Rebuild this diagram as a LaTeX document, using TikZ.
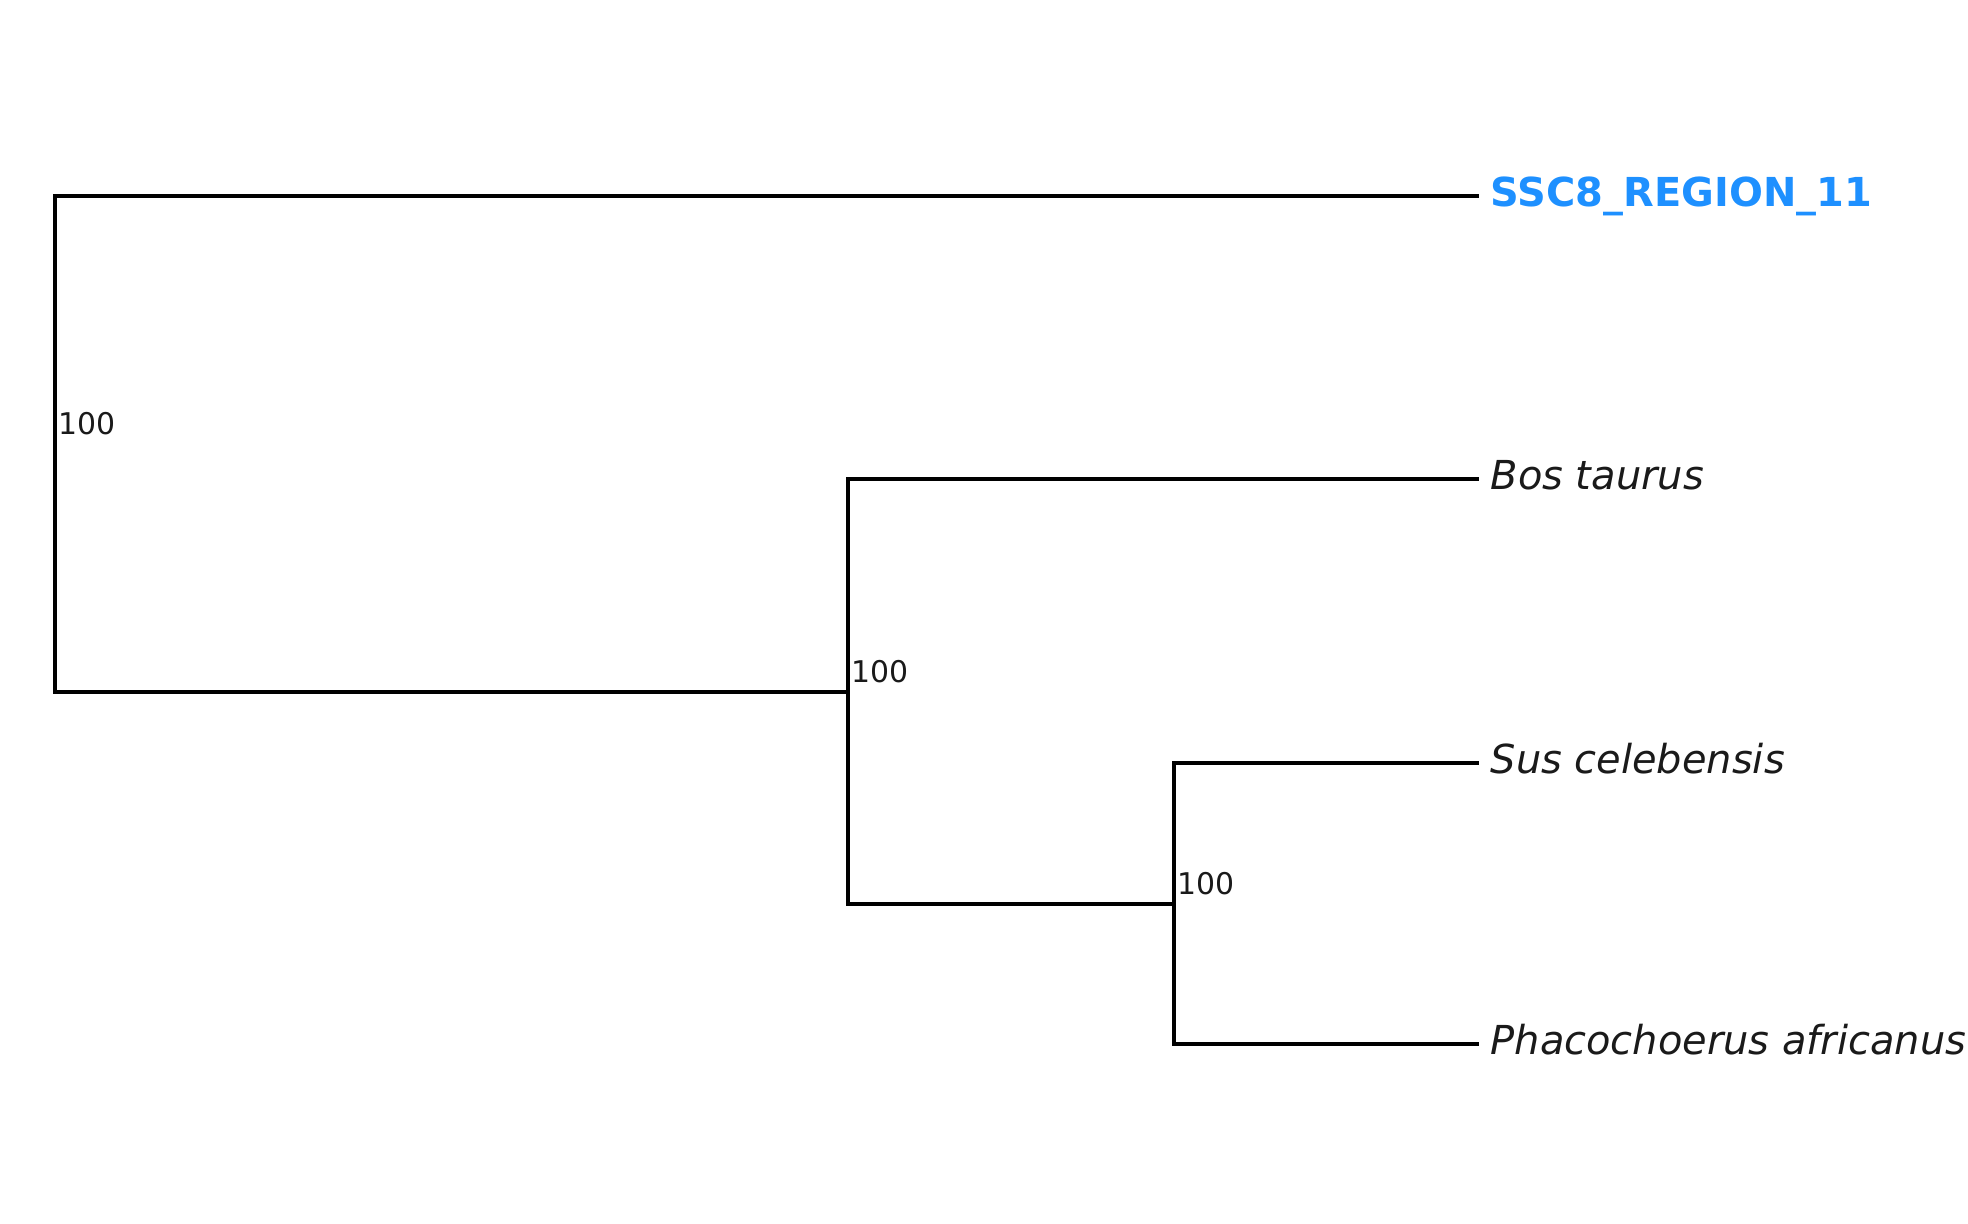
\documentclass[tikz,border=0pt]{standalone}
\usepackage{fontspec}
\setmainfont{DejaVu Sans}
\usepackage{xcolor}
\usepackage{tikz}
\definecolor{leafblue}{RGB}{30,144,255}
\definecolor{leafgray}{RGB}{26,26,26}

\begin{document}
\begin{tikzpicture}[x=0.01cm,y=-0.01cm,
  branch/.style={line width=0.032cm,black,line cap=rect},
  leaf/.style={anchor=west,inner ysep=0pt,inner xsep=0.13cm,text height=0.29cm,text depth=0.09cm,
    text=leafgray,font=\fontsize{11.35}{13}\selectfont\itshape},
  hl/.style={text=leafblue,font=\fontsize{11.35}{13}\selectfont\bfseries},
  support/.style={anchor=base west,inner sep=0pt,xshift=0.03cm,yshift=0.1cm,text=leafgray,font=\fontsize{8.5}{10}\selectfont}]
\useasboundingbox (0,0) rectangle (1968,1223);

\node[leaf,hl] (ssc) at (1477,196) {SSC8\_REGION\_11};
\node[leaf] (bos) at (1477,479) {Bos taurus};
\node[leaf] (sus) at (1477,763) {Sus celebensis};
\node[leaf] (pha) at (1477,1044) {Phacochoerus africanus};

\coordinate (suid) at (1174,904);
\coordinate (cetart) at (848,692);
\coordinate (root) at (55,444);

\draw[branch] (sus.west) -| (suid) |- (pha.west);
\draw[branch] (bos.west) -| (cetart) |- (suid);
\draw[branch] (ssc.west) -| (root) |- (cetart);

\node[support] (sroot) at (root) {100};
\node[support] (scetart) at (cetart) {100};
\node[support] (ssuid) at (suid) {100};
\end{tikzpicture}
\end{document}
